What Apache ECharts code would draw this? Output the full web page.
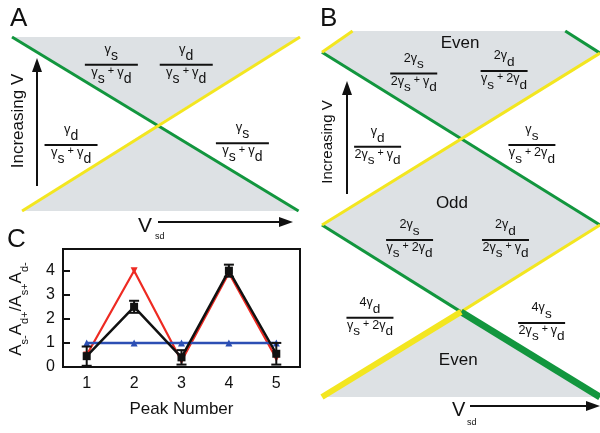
<!DOCTYPE html>
<html>
<head>
<meta charset="utf-8">
<script src="https://cdn.jsdelivr.net/npm/echarts@6/dist/echarts.min.js"></script>
<style>html,body{margin:0;padding:0;background:#fff}#main{width:600px;height:433px}</style>
</head>
<body>
<div id="main"></div>
<script>
const FONT = 'Liberation Sans, Arial, sans-serif';
const INK = '#111';
const GREEN = '#12963e';
const YELLOW = '#f3e620';
const GRAY = '#dde1e4';

// panel A: one source-drain crossing, axes in (Vsd, V) units
const aGreen = [[-1, 1], [0.99, -1]];
const aYellow = [[-0.93, -1], [1, 1]];
const aRegions = [
  [[-1, 1], [1, 1], [0.015, 0]],
  [[-0.93, -1], [0.99, -1], [0.015, 0]]
];
const aFracPos = [[-0.31, 0.68], [0.21, 0.68], [-0.59, -0.24], [0.6, -0.22]];
const aFracTop = ['{g|γ}{s|s}', '{g|γ}{s|d}', '{g|γ}{s|d}', '{g|γ}{s|s}'];
const aFracBot = [
  '{g|γ}{s|s}{p| + }{g|γ}{s|d}', '{g|γ}{s|s}{p| + }{g|γ}{s|d}',
  '{g|γ}{s|s}{p| + }{g|γ}{s|d}', '{g|γ}{s|s}{p| + }{g|γ}{s|d}'
];

// panel B: repeating diamonds
const bGreen = [[[-1, 3.05], [1, 1.02]], [[0.75, 3.3], [1, 3.04]], [[-1, 1.02], [0, 0]]];
const bGreenThick = [[[0, 0], [1, -1]]];
const bYellow = [[[-1, 1.02], [1, 3.04]], [[-1, 3.05], [-0.78, 3.3]], [[0, 0], [1, 1.02]]];
const bYellowThick = [[[-1, -1], [0, 0]]];
const bRegions = [
  [[-0.78, 3.3], [0.75, 3.3], [1, 3.04], [0, 2.03], [-1, 3.05]],
  [[0, 2.03], [1, 1.02], [0, 0], [-1, 1.02]],
  [[0, 0], [1, -1], [-1, -1]]
];
const bFracPos = [[-0.34, 2.8], [0.31, 2.83], [-0.6, 1.94], [0.51, 1.96],
  [-0.37, 0.845], [0.32, 0.845], [-0.655, -0.07], [0.58, -0.13]];
const bFracTop = ['{g|2γ}{s|s}', '{g|2γ}{s|d}', '{g|γ}{s|d}', '{g|γ}{s|s}',
  '{g|2γ}{s|s}', '{g|2γ}{s|d}', '{g|4γ}{s|d}', '{g|4γ}{s|s}'];
const bFracBot = [
  '{g|2γ}{s|s}{p| + }{g|γ}{s|d}', '{g|γ}{s|s}{p| + }{g|2γ}{s|d}',
  '{g|2γ}{s|s}{p| + }{g|γ}{s|d}', '{g|γ}{s|s}{p| + }{g|2γ}{s|d}',
  '{g|γ}{s|s}{p| + }{g|2γ}{s|d}', '{g|2γ}{s|s}{p| + }{g|γ}{s|d}',
  '{g|γ}{s|s}{p| + }{g|2γ}{s|d}', '{g|2γ}{s|s}{p| + }{g|γ}{s|d}'
];
const bWords = [[-0.007, 3.15], [-0.065, 1.28], [-0.02, -0.57]];
const bWordText = ['Even', 'Odd', 'Even'];

// panel C: peak amplitude ratios
const peaks = ['1', '2', '3', '4', '5'];
const ratioModel = [0.5, 4.0, 0.25, 3.9, 0.35];
const ratioMeasured = [0.45, 2.5, 0.4, 4.0, 0.55];
const ratioErr = [0.4, 0.25, 0.3, 0.25, 0.45];
const ratioEqual = [1, 1, 1, 1, 1];

function fracRich(k) {
  return {
    g: {fontSize: 13 * k, fontFamily: FONT, fill: INK, color: INK, verticalAlign: 'top', padding: [0, 0, 7 * k, 0]},
    s: {fontSize: 14 * k, fontFamily: FONT, fill: INK, color: INK, verticalAlign: 'bottom'},
    p: {fontSize: 11 * k, fontFamily: FONT, fill: INK, color: INK, verticalAlign: 'top'}
  };
}

function lineSeries(pts, color, width, ax) {
  return {
    type: 'line', xAxisIndex: ax, yAxisIndex: ax, data: pts, symbol: 'none',
    lineStyle: {color: color, width: width, cap: 'butt'}, silent: true, z: 3, animation: false
  };
}

function regionSeries(regions, ax) {
  return {
    type: 'custom', xAxisIndex: ax, yAxisIndex: ax, silent: true, z: 1,
    data: regions.map((r, i) => [r[0][0], r[0][1], i]),
    renderItem: (params, api) => ({
      type: 'polygon',
      shape: {points: regions[params.dataIndex].map(p => api.coord(p))},
      style: {fill: GRAY}
    })
  };
}

function fracSeries(pos, tops, bots, ax, w, k) {
  const rich = fracRich(k);
  return {
    type: 'custom', xAxisIndex: ax, yAxisIndex: ax, silent: true, z: 4,
    data: pos,
    renderItem: (params, api) => {
      const c = api.coord([api.value(0), api.value(1)]);
      const i = params.dataIndex;
      return {
        type: 'group',
        children: [
          {type: 'text', x: c[0], y: c[1] - 2,
            style: {text: tops[i], rich: rich, align: 'center', verticalAlign: 'bottom', fill: INK}},
          {type: 'line', shape: {x1: c[0] - w / 2, y1: c[1], x2: c[0] + w / 2, y2: c[1]},
            style: {stroke: INK, lineWidth: 2}},
          {type: 'text', x: c[0], y: c[1] + 1,
            style: {text: bots[i], rich: rich, align: 'center', verticalAlign: 'top', fill: INK}}
        ]
      };
    }
  };
}

function wordSeries(pos, words, ax) {
  return {
    type: 'custom', xAxisIndex: ax, yAxisIndex: ax, silent: true, z: 4,
    data: pos,
    renderItem: (params, api) => {
      const c = api.coord([api.value(0), api.value(1)]);
      return {type: 'text', x: c[0], y: c[1],
        style: {text: words[params.dataIndex], fontSize: 17, fontFamily: FONT, fill: INK,
          align: 'center', verticalAlign: 'middle'}};
    }
  };
}

function arrow(x1, y1, x2, y2) {
  const a = Math.atan2(y2 - y1, x2 - x1), L = 14, h = 5;
  const bx = x2 - L * Math.cos(a), by = y2 - L * Math.sin(a);
  return {
    type: 'group', children: [
      {type: 'line', shape: {x1: x1, y1: y1, x2: bx + 2 * Math.cos(a), y2: by + 2 * Math.sin(a)}, style: {stroke: INK, lineWidth: 2}},
      {type: 'polygon', shape: {points: [[x2, y2],
        [bx - h * Math.sin(a), by + h * Math.cos(a)], [bx + h * Math.sin(a), by - h * Math.cos(a)]]}, style: {fill: INK}}
    ]
  };
}

function txt(x, y, s, size, extra) {
  return Object.assign({type: 'text', x: x, y: y,
    style: {text: s, fontSize: size, fontFamily: FONT, fill: INK, align: 'left', verticalAlign: 'top'}}, extra || {});
}

function vtxt(x, y, s, size) {
  return {type: 'text', x: x, y: y, rotation: Math.PI / 2,
    style: {text: s, fontSize: size, fontFamily: FONT, fill: INK, align: 'center', verticalAlign: 'middle'}};
}

const hiddenAxis = (grid, min, max) => ({gridIndex: grid, type: 'value', min: min, max: max, show: false});

const series = [];
series.push(regionSeries(aRegions, 0));
series.push(lineSeries(aGreen, GREEN, 3, 0));
series.push(lineSeries(aYellow, YELLOW, 3, 0));
series.push(fracSeries(aFracPos, aFracTop, aFracBot, 0, 53, 1));

series.push(regionSeries(bRegions, 1));
bGreen.forEach(p => series.push(lineSeries(p, GREEN, 3, 1)));
bYellow.forEach(p => series.push(lineSeries(p, YELLOW, 3, 1)));
bGreenThick.forEach(p => series.push(lineSeries(p, GREEN, 7, 1)));
bYellowThick.forEach(p => series.push(lineSeries(p, YELLOW, 6, 1)));
series.push(fracSeries(bFracPos, bFracTop, bFracBot, 1, 47, 0.97));
series.push(wordSeries(bWords, bWordText, 1));

series.push({
  type: 'line', xAxisIndex: 2, yAxisIndex: 2, data: ratioModel,
  symbol: 'triangle', symbolRotate: 180, symbolSize: 7,
  itemStyle: {color: '#ee2a22'}, lineStyle: {color: '#ee2a22', width: 2.2}, z: 3
});
series.push({
  type: 'line', xAxisIndex: 2, yAxisIndex: 2, data: ratioEqual,
  symbol: 'triangle', symbolSize: 7,
  itemStyle: {color: '#2c4fb4'}, lineStyle: {color: '#2c4fb4', width: 2.5}, z: 4
});
series.push({
  type: 'line', xAxisIndex: 2, yAxisIndex: 2, data: ratioMeasured,
  symbol: 'rect', symbolSize: 8,
  itemStyle: {color: INK}, lineStyle: {color: INK, width: 2.5}, z: 5
});
series.push({
  type: 'custom', xAxisIndex: 2, yAxisIndex: 2, z: 6, silent: true,
  encode: {x: 0, y: [1, 2]},
  data: ratioMeasured.map((v, i) => [i, v - ratioErr[i], v + ratioErr[i]]),
  renderItem: (params, api) => {
    const lo = api.coord([api.value(0), api.value(1)]);
    const hi = api.coord([api.value(0), api.value(2)]);
    const st = {stroke: INK, lineWidth: 2};
    return {type: 'group', children: [
      {type: 'line', shape: {x1: lo[0], y1: lo[1], x2: hi[0], y2: hi[1]}, style: st},
      {type: 'line', shape: {x1: lo[0] - 5, y1: lo[1], x2: lo[0] + 5, y2: lo[1]}, style: st},
      {type: 'line', shape: {x1: hi[0] - 5, y1: hi[1], x2: hi[0] + 5, y2: hi[1]}, style: st}
    ]};
  }
});

const option = {
  animation: false,
  backgroundColor: '#fff',
  grid: [
    {left: 12, top: 37, width: 288, height: 174},
    {left: 322, top: 31, width: 278, height: 366},
    {left: 63, top: 249, width: 237, height: 118, show: true, borderColor: INK, borderWidth: 2}
  ],
  xAxis: [
    hiddenAxis(0, -1, 1),
    hiddenAxis(1, -1, 1),
    {gridIndex: 2, type: 'category', data: peaks, boundaryGap: true,
      axisLine: {lineStyle: {color: INK, width: 2}},
      axisTick: {inside: true, alignWithLabel: true, length: 7, lineStyle: {color: INK, width: 2}},
      axisLabel: {fontSize: 16, fontFamily: FONT, color: INK, margin: 9},
      name: 'Peak Number', nameLocation: 'middle', nameGap: 34,
      nameTextStyle: {fontSize: 17, fontFamily: FONT, color: INK}},
    {gridIndex: 2, type: 'category', data: peaks, boundaryGap: true, position: 'top',
      axisLine: {lineStyle: {color: INK, width: 2}},
      axisTick: {inside: true, alignWithLabel: true, length: 7, lineStyle: {color: INK, width: 2}},
      axisLabel: {show: false}}
  ],
  yAxis: [
    hiddenAxis(0, -1, 1),
    hiddenAxis(1, -1, 3.3),
    {gridIndex: 2, type: 'value', min: 0, max: 4.9, interval: 1,
      splitLine: {show: false},
      axisLine: {show: true, lineStyle: {color: INK, width: 2}},
      axisTick: {show: true, inside: true, length: 7, lineStyle: {color: INK, width: 2}},
      axisLabel: {fontSize: 16, fontFamily: FONT, color: INK, margin: 8,
        formatter: v => (Number.isInteger(v) ? String(v) : '')}}
  ],
  graphic: [
    txt(10, 6, 'A', 26),
    txt(320, 6, 'B', 26),
    txt(7, 227, 'C', 26),
    vtxt(18, 121, 'Increasing V', 17),
    vtxt(328, 142, 'Increasing V', 15),
    arrow(37, 186, 37, 58),
    arrow(347, 194, 347, 81),
    txt(138, 216, 'V', 21),
    txt(155, 232, 'sd', 9),
    arrow(158, 222, 293, 222),
    txt(452, 400, 'V', 20),
    txt(467, 418, 'sd', 9),
    arrow(470, 406, 600, 406),
    {type: 'text', x: 19, y: 309, rotation: Math.PI / 2,
      style: {text: '{a|A}{b|s-}{a|A}{b|d+}{a|/A}{b|s+}{a|A}{b|d-}', align: 'center', verticalAlign: 'middle',
        rich: {
          a: {fontSize: 17, fontFamily: FONT, fill: INK, verticalAlign: 'top', padding: [0, 0, 5, 0]},
          b: {fontSize: 11, fontFamily: FONT, fill: INK, verticalAlign: 'bottom'}
        }}}
  ],
  series: series
};

const chart = echarts.init(document.getElementById('main'), null, {renderer: 'canvas'});
chart.setOption(option);
</script>
</body>
</html>
